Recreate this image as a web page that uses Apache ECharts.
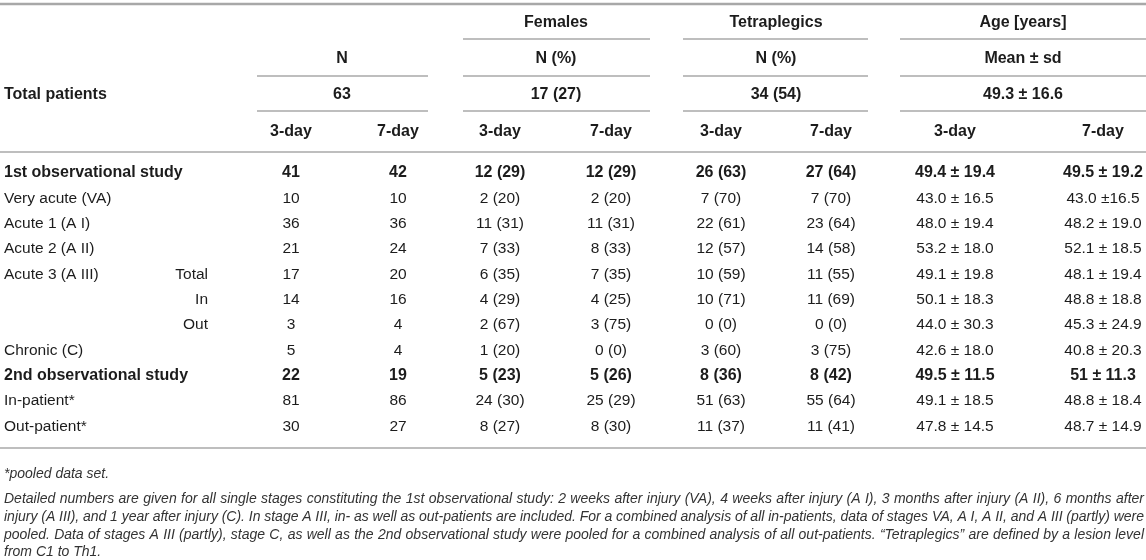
<!DOCTYPE html>
<html>
<head>
<meta charset="utf-8">
<title>Patients overview</title>
<script src="https://cdn.jsdelivr.net/npm/echarts@6/dist/echarts.min.js"></script>
<style>
  html, body { margin: 0; padding: 0; background: #fff; }
  #main { width: 1146px; height: 560px; }
</style>
</head>
<body>
<div id="main"></div>
<script type="text/javascript">
// table content
var groups = ['N', 'Females', 'Tetraplegics', 'Age [years]'];
var units = ['N', 'N (%)', 'N (%)', 'Mean \u00b1 sd'];
var totals = ['63', '17 (27)', '34 (54)', '49.3 \u00b1 16.6'];
var periods = ['3-day', '7-day'];

var rowLabels = ['1st observational study', 'Very acute (VA)', 'Acute 1 (A I)', 'Acute 2 (A II)',
    'Acute 3 (A III)', '', '', 'Chronic (C)', '2nd observational study', 'In-patient*', 'Out-patient*'];
var subLabels = ['', '', '', '', 'Total', 'In', 'Out', '', '', '', ''];
var boldRows = [0, 8];

var n3 = ['41', '10', '36', '21', '17', '14', '3', '5', '22', '81', '30'];
var n7 = ['42', '10', '36', '24', '20', '16', '4', '4', '19', '86', '27'];
var females3 = ['12 (29)', '2 (20)', '11 (31)', '7 (33)', '6 (35)', '4 (29)', '2 (67)', '1 (20)', '5 (23)', '24 (30)', '8 (27)'];
var females7 = ['12 (29)', '2 (20)', '11 (31)', '8 (33)', '7 (35)', '4 (25)', '3 (75)', '0 (0)', '5 (26)', '25 (29)', '8 (30)'];
var tetra3 = ['26 (63)', '7 (70)', '22 (61)', '12 (57)', '10 (59)', '10 (71)', '0 (0)', '3 (60)', '8 (36)', '51 (63)', '11 (37)'];
var tetra7 = ['27 (64)', '7 (70)', '23 (64)', '14 (58)', '11 (55)', '11 (69)', '0 (0)', '3 (75)', '8 (42)', '55 (64)', '11 (41)'];
var age3 = ['49.4 \u00b1 19.4', '43.0 \u00b1 16.5', '48.0 \u00b1 19.4', '53.2 \u00b1 18.0', '49.1 \u00b1 19.8', '50.1 \u00b1 18.3',
    '44.0 \u00b1 30.3', '42.6 \u00b1 18.0', '49.5 \u00b1 11.5', '49.1 \u00b1 18.5', '47.8 \u00b1 14.5'];
var age7 = ['49.5 \u00b1 19.2', '43.0 \u00b116.5', '48.2 \u00b1 19.0', '52.1 \u00b1 18.5', '48.1 \u00b1 19.4', '48.8 \u00b1 18.8',
    '45.3 \u00b1 24.9', '40.8 \u00b1 20.3', '51 \u00b1 11.3', '48.8 \u00b1 18.4', '48.7 \u00b1 14.9'];

var notes = [
    '*pooled data set.',
    'Detailed numbers are given for all single stages constituting the 1st observational study: 2 weeks after injury (VA), 4 weeks after injury (A I), 3 months after injury (A II), 6 months after',
    'injury (A III), and 1 year after injury (C). In stage A III, in- as well as out-patients are included. For a combined analysis of all in-patients, data of stages VA, A I, A II, and A III (partly) were',
    'pooled. Data of stages A III (partly), stage C, as well as the 2nd observational study were pooled for a combined analysis of all out-patients. \u201cTetraplegics\u201d are defined by a lesion level',
    'from C1 to Th1.'
];

// layout (pixel units of the hidden axes)
var W = 1146, H = 560;
var FAMILY = '"Liberation Sans", Arial, sans-serif';
var BOLD_SIZE = 16, TEXT_SIZE = 15.5, NOTE_SIZE = 14;
var colX = [291, 398, 500, 611, 721, 831, 955, 1103];
var groupX = [342, 556, 776, 1023];
var spans = [[257, 428], [463, 650], [683, 868], [900, 1146]];
var headY = [23, 59, 95, 132];
var rowY0 = 173, rowStep = 25.35;
var noteY = [474, 499, 517, 535, 552];
var noteW = 1140;

var cells = [];
var rules = [];
function cell(x, y, text, align, weight, size, style) {
    cells.push({
        x: x, y: y, text: text, align: align || 'center', weight: weight || 'normal',
        size: size || (weight === 'bold' ? BOLD_SIZE : TEXT_SIZE), style: style || 'normal'
    });
}

// header
for (var g = 0; g < 4; g++) {
    if (g > 0) {
        cell(groupX[g], headY[0], groups[g], 'center', 'bold');
        rules.push([spans[g][0], spans[g][1], 39, 1.5]);
    }
    cell(groupX[g], headY[1], units[g], 'center', 'bold');
    rules.push([spans[g][0], spans[g][1], 76, 1.5]);
    cell(groupX[g], headY[2], totals[g], 'center', 'bold');
    rules.push([spans[g][0], spans[g][1], 111, 1.5]);
}
cell(4, headY[2], 'Total patients', 'left', 'bold');
for (var c = 0; c < colX.length; c++) {
    cell(colX[c], headY[3], periods[c % 2], 'center', 'bold');
}
rules.push([0, W, 4, 2.5]);
rules.push([0, W, 152, 1.5]);
rules.push([0, W, 448, 1.5]);

// body
var columns = [n3, n7, females3, females7, tetra3, tetra7, age3, age7];
for (var r = 0; r < rowLabels.length; r++) {
    var y = rowY0 + r * rowStep;
    var w = boldRows.indexOf(r) >= 0 ? 'bold' : 'normal';
    if (rowLabels[r]) cell(4, y, rowLabels[r], 'left', w);
    if (subLabels[r]) cell(208, y, subLabels[r], 'right', w);
    for (var k = 0; k < columns.length; k++) {
        cell(colX[k], y, columns[k][r], 'center', w);
    }
}

// footnotes, justified lines measured with a canvas
var ctx = document.createElement('canvas').getContext('2d');
ctx.font = 'italic ' + NOTE_SIZE + 'px ' + FAMILY;
notes.forEach(function (line, i) {
    var justify = i > 0 && i < notes.length - 1;
    if (!justify) {
        cell(4, noteY[i], line, 'left', 'normal', NOTE_SIZE, 'italic');
        return;
    }
    var words = line.split(' ');
    var total = 0;
    var widths = words.map(function (wd) { var m = ctx.measureText(wd).width; total += m; return m; });
    var gap = Math.max(2, (noteW - total) / (words.length - 1));
    var x = 4;
    words.forEach(function (wd, j) {
        cell(x, noteY[i], wd, 'left', 'normal', NOTE_SIZE, 'italic');
        x += widths[j] + gap;
    });
});

var chart = echarts.init(document.getElementById('main'), null, { renderer: 'canvas' });
chart.setOption({
    animation: false,
    backgroundColor: '#ffffff',
    grid: { left: 0, right: 0, top: 0, bottom: 0 },
    xAxis: { type: 'value', min: 0, max: W, show: false },
    yAxis: { type: 'value', min: 0, max: H, inverse: true, show: false },
    series: [
        {
            type: 'custom',
            name: 'rules',
            silent: true,
            data: rules,
            renderItem: function (params, api) {
                var a = api.coord([api.value(0), api.value(2)]);
                var b = api.coord([api.value(1), api.value(2)]);
                return {
                    type: 'line',
                    shape: { x1: a[0], y1: a[1], x2: b[0], y2: b[1] },
                    style: { stroke: '#a8a8a8', lineWidth: api.value(3) }
                };
            }
        },
        {
            type: 'custom',
            name: 'cells',
            silent: true,
            data: cells.map(function (c, i) { return [c.x, c.y, i]; }),
            renderItem: function (params, api) {
                var c = cells[api.value(2)];
                var p = api.coord([api.value(0), api.value(1)]);
                return {
                    type: 'text',
                    x: p[0],
                    y: p[1],
                    style: {
                        text: c.text,
                        fill: c.style === 'italic' ? '#333333' : '#1c1c1c',
                        font: c.style + ' ' + c.weight + ' ' + c.size + 'px ' + FAMILY,
                        align: c.align,
                        verticalAlign: 'middle'
                    }
                };
            }
        }
    ]
});
</script>
</body>
</html>
